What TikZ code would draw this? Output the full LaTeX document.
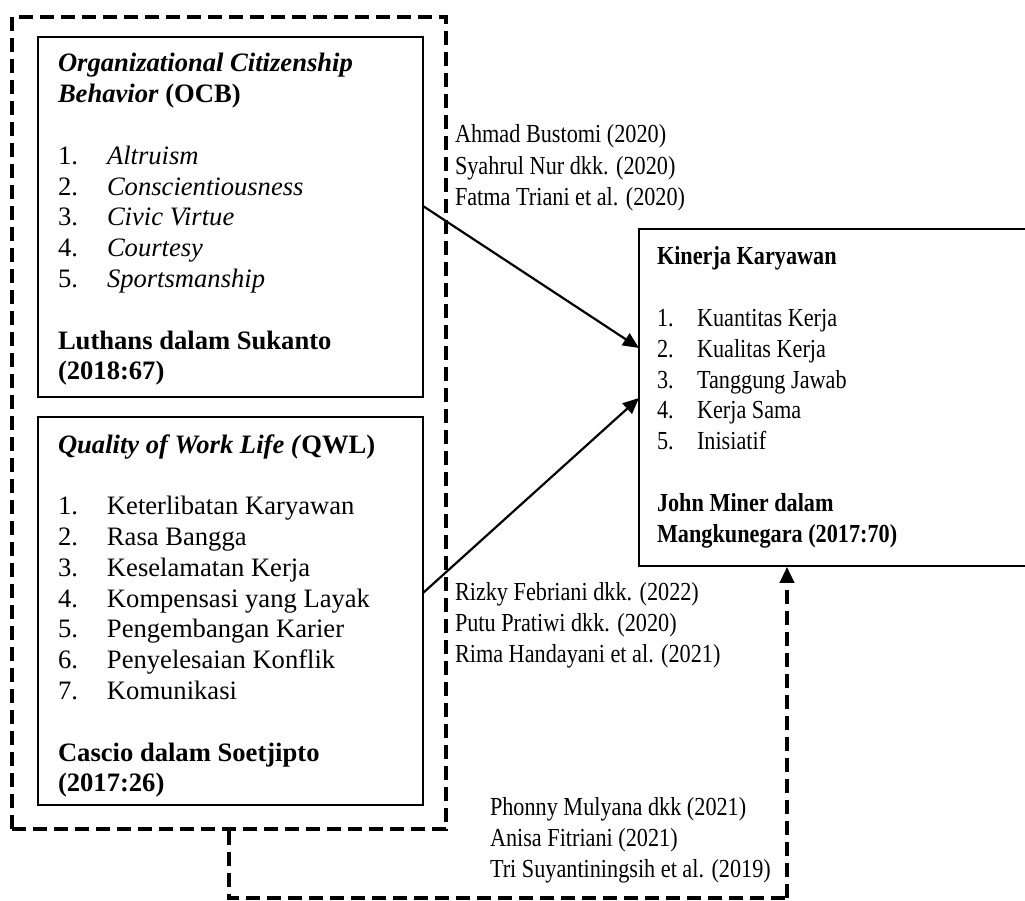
\documentclass[tikz,border=0pt]{standalone}
\usepackage{fontspec}
\setmainfont{Liberation Serif}
\newfontfamily\condfont{Liberation Serif}[FakeStretch=0.855]
\usetikzlibrary{arrows.meta}
\tikzset{
  box/.style={draw, line width=1.6pt, rectangle, inner sep=0pt},
  dashbox/.style={draw, line width=3.6pt, dash pattern=on 14pt off 7pt, rectangle, inner sep=0pt},
  dashconn/.style={line width=3.6pt, dash pattern=on 14pt off 7pt},
  conn/.style={line width=2.2pt, -{Triangle[length=16pt,width=14pt]}},
  txt/.style={anchor=base west, inner sep=0pt, outer sep=0pt, font=\fontsize{26.6}{30.8}\selectfont},
  ctxt/.style={anchor=base west, inner sep=0pt, outer sep=0pt, font=\fontsize{26}{30.8}\selectfont\condfont},
  cite/.style={anchor=base west, inner sep=0pt, outer sep=0pt, font=\fontsize{26}{31.2}\selectfont\condfont},
}
\newcommand{\li}[1]{\makebox[49pt][l]{#1}}
\newcommand{\ri}[1]{\makebox[40pt][l]{#1}}
\begin{document}
\begin{tikzpicture}[x=1pt,y=-1pt]
\useasboundingbox (0,0) rectangle (1025,901);
% outer dashed group
\node[dashbox, minimum width=434pt, minimum height=812pt] (outer) at (229,423) {};
% OCB box
\node[box, minimum width=385pt, minimum height=360pt] (ocb) at (230.5,217) {};
\node[txt] (ocbt) at (58,72) {\begin{tabular}[t]{@{}l@{}}
\textbf{\textit{Organizational Citizenship}}\\
\textbf{\textit{Behavior}} \textbf{(OCB)}\\
\\
\li{1.}\textit{Altruism}\\
\li{2.}\textit{Conscientiousness}\\
\li{3.}\textit{Civic Virtue}\\
\li{4.}\textit{Courtesy}\\
\li{5.}\textit{Sportsmanship}\\
\\
\textbf{Luthans dalam Sukanto}\\
\textbf{(2018:67)}
\end{tabular}};
% QWL box
\node[box, minimum width=385pt, minimum height=388pt] (qwl) at (230.5,611) {};
\node[txt] (qwlt) at (58,453) {\begin{tabular}[t]{@{}l@{}}
\textbf{\textit{Quality of Work Life (}QWL)}\\
\\
\li{1.}Keterlibatan Karyawan\\
\li{2.}Rasa Bangga\\
\li{3.}Keselamatan Kerja\\
\li{4.}Kompensasi yang Layak\\
\li{5.}Pengembangan Karier\\
\li{6.}Penyelesaian Konflik\\
\li{7.}Komunikasi\\
\\
\textbf{Cascio dalam Soetjipto}\\
\textbf{(2017:26)}
\end{tabular}};
% Kinerja box
\node[box, minimum width=400pt, minimum height=337pt] (kin) at (839,397.5) {};
\node[ctxt] (kint) at (657,265) {\begin{tabular}[t]{@{}l@{}}
\textbf{Kinerja Karyawan}\\
\\
\ri{1.}Kuantitas Kerja\\
\ri{2.}Kualitas Kerja\\
\ri{3.}Tanggung Jawab\\
\ri{4.}Kerja Sama\\
\ri{5.}Inisiatif\\
\\
\textbf{John Miner dalam}\\
\textbf{Mangkunegara (2017:70)}
\end{tabular}};
% citations
\node[cite] (c1) at (455,143) {\begin{tabular}[t]{@{}l@{}}
Ahmad Bustomi (2020)\\
Syahrul Nur dkk. (2020)\\
Fatma Triani et al. (2020)
\end{tabular}};
\node[cite] (c2) at (455,600) {\begin{tabular}[t]{@{}l@{}}
Rizky Febriani dkk. (2022)\\
Putu Pratiwi dkk. (2020)\\
Rima Handayani et al. (2021)
\end{tabular}};
\node[cite] (c3) at (490,815) {\begin{tabular}[t]{@{}l@{}}
Phonny Mulyana dkk (2021)\\
Anisa Fitriani (2021)\\
Tri Suyantiningsih et al. (2019)
\end{tabular}};
% arrows
\coordinate (a1s) at (423,206);
\coordinate (a1e) at (639,348);
\coordinate (a2s) at (423,593);
\coordinate (a2e) at (639,398);
\draw[conn] (a1s) -- (a1e);
\draw[conn] (a2s) -- (a2e);
% dashed connector
\coordinate (bend) at (787,898);
\draw[dashconn] (outer.south) |- (bend);
\draw[dashconn, -{Triangle[length=16pt,width=14pt]}] (bend) -- (bend |- kin.south);
\end{tikzpicture}
\end{document}
